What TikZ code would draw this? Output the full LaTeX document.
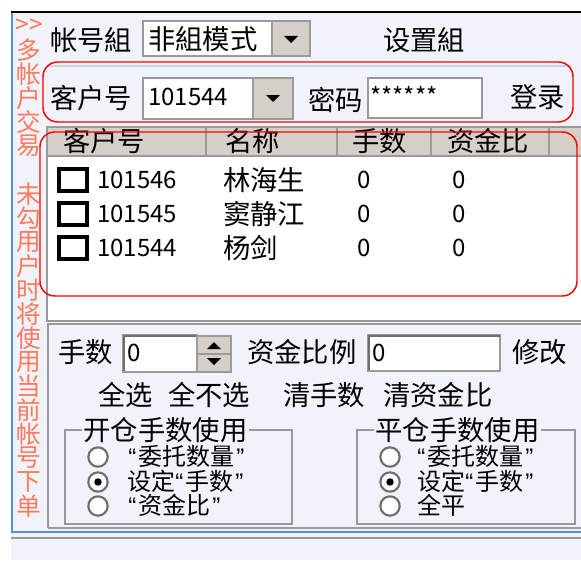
\documentclass[tikz,border=0pt]{standalone}
\usepackage{fontspec}
\setmainfont{Noto Sans CJK SC}
\newfontfamily\qfont{Liberation Sans}
\newcommand{\myoq}{{\qfont “}\hspace{1.5pt}}
\newcommand{\mycq}{\hspace{1.5pt}{\qfont ”}}
\definecolor{bg}{HTML}{F0F4FA}
\definecolor{winblue}{HTML}{5B8FD0}
\definecolor{btn}{HTML}{D4D0C8}
\definecolor{edge}{HTML}{9A9A9A}
\definecolor{dark}{HTML}{6E6E6E}
\definecolor{sidered}{HTML}{FF7A5C}
\definecolor{sep}{HTML}{C6D6EA}
\tikzset{
  lbl/.style={anchor=west, inner sep=0pt, font=\fontsize{20.5pt}{20.5pt}\selectfont},
  rlbl/.style={anchor=west, inner sep=0pt, text height=13pt, text depth=0.4pt, font=\fontsize{18pt}{18pt}\selectfont},
  num/.style={anchor=west, inner sep=0pt, font=\fontsize{18pt}{18pt}\selectfont},
  side/.style={inner sep=0pt, text=sidered, font=\fontsize{18.5pt}{18.5pt}\selectfont},
  redbox/.style={draw=red, line width=1.1pt, rounded corners=11pt},
  field/.style={fill=white, draw=edge, line width=1.1pt},
  btnbox/.style={fill=btn, draw=edge, line width=1.1pt},
  hdr/.style={fill=btn, draw=edge, line width=0.9pt},
  chk/.style={draw=black, line width=2.8pt},
  grp/.style={draw=edge, line width=1.1pt},
  radio/.style={circle, fill=white, draw=dark, line width=1.6pt, minimum size=14.5pt, inner sep=0pt},
  tri/.style={fill=black}
}
\begin{document}
\begin{tikzpicture}[x=0.75pt,y=-0.75pt]
\useasboundingbox (0,0) rectangle (581,560);
% window
\fill[white] (0,0) rectangle (581,560);
\fill[bg] (11,12) rectangle (581,560);
\draw[black, line width=2.2pt] (11,12) -- (581,12);
\draw[winblue, line width=1.3pt] (12,13) -- (12,532) -- (581,532);
\draw[edge, line width=1.4pt] (11,538) -- (581,538);

% side text
\foreach \c [count=\i] in {>{}>,多,帐,户,交,易,{},未,勾,用,户,时,将,使,用,当,前,帐,号,下,单}
  \node[side] (side\i) at (29,{2+24*\i}) {\c};

% row 1
\node[lbl] (acctgrp) at (50,40) {帐号組};
\draw[field] (143,21) rectangle (272,56);
\node[lbl] (mode) at (148,39) {非組模式};
\draw[btnbox] (272,21) rectangle (310,56);
\fill[tri] (284,36) -- (298,36) -- (291,43) -- cycle;
\node[lbl] (setgrp) at (383,40) {设置組};

% login row
\draw[sep, line width=1pt] (47,66) -- (572,66);
\node[lbl] (custlbl) at (50,98) {客户号};
\draw[field] (143,78) rectangle (253,119);
\node[num] (custno) at (148,97) {101544};
\draw[btnbox] (253,78) rectangle (293,119);
\fill[tri] (266,95) -- (280,95) -- (273,102) -- cycle;
\node[lbl] (pwdlbl) at (308,100) {密码};
\draw[field] (368,78) rectangle (482,118);
\node[num, anchor=north west] (pwd) at (370,86) {******};
\node[lbl] (login) at (510,97) {登录};
\draw[redbox] (43,62) rectangle (573,122);

% table
\fill[white] (47,156) rectangle (581,321);
\draw[edge, line width=1.1pt] (47,126) -- (47,321) -- (581,321);
\draw[hdr] (47,127) rectangle (206,156);
\draw[hdr] (206,127) rectangle (337,156);
\draw[hdr] (337,127) rectangle (431,156);
\draw[hdr] (431,127) rectangle (549,156);
\draw[hdr] (549,127) rectangle (583,156);
\node[lbl] (h1) at (63,141) {客户号};
\node[lbl] (h2) at (225,141) {名称};
\node[lbl] (h3) at (352,141) {手数};
\node[lbl] (h4) at (447,141) {资金比};

\foreach \y/\n/\m [count=\i] in {180/101546/林海生, 214/101545/窦静江, 248/101544/杨剑} {
  \draw[chk] (59,\y-11) rectangle (87,\y+11);
  \node[num] (id\i) at (97,\y) {\n};
  \node[lbl] (nm\i) at (223,\y) {\m};
  \node[num] (q\i) at (357,\y) {0};
  \node[num] (r\i) at (452,\y) {0};
}
\draw[redbox] (40,132) rectangle (577,296);

% bottom panel
\draw[edge, line width=1.4pt] (48,528) -- (48,324) -- (581,324);
\draw[edge, line width=1.4pt] (48,528) -- (581,528);

\node[lbl] (shl) at (58,352) {手数};
\draw[field] (123,335) rectangle (197,372);
\draw[dark, line width=1.3pt] (124,371) -- (124,336) -- (231,336);
\node[num] (shv) at (127,353) {0};
\draw[btnbox] (197,336) rectangle (231,354);
\draw[btnbox] (197,354) rectangle (231,372);
\fill[tri] (207,349) -- (221,349) -- (214,342) -- cycle;
\fill[tri] (207,358) -- (221,358) -- (214,365) -- cycle;
\node[lbl] (ratiol) at (247,352) {资金比例};
\draw[field] (368,335) rectangle (500,371);
\draw[dark, line width=1.3pt] (369,370) -- (369,336) -- (500,336);
\node[num] (ratiov) at (372,353) {0};
\node[lbl] (modify) at (512,352) {修改};

\node[lbl] (selall) at (98,395) {全选};
\node[lbl] (selnone) at (168,395) {全不选};
\node[lbl] (clrq) at (283,395) {清手数};
\node[lbl] (clrr) at (383,395) {清资金比};

% group boxes
\draw[grp] (65,430) rectangle (292,524);
\node[lbl, fill=bg, inner xsep=1pt] (g1t) at (82,430) {开仓手数使用};
\draw[grp] (357,430) rectangle (575,524);
\node[lbl, fill=bg, inner xsep=1pt] (g2t) at (374,430) {平仓手数使用};

\node[radio] (ra1) at (98,457) {};
\node[radio] (ra2) at (98,482) {};
\node[radio] (ra3) at (98,506) {};
\fill (ra2) circle (2.8pt);
\node[rlbl] (ta1) at (128,457) {\myoq 委托数量\mycq};
\node[rlbl] (ta2) at (127,482) {设定\myoq 手数\mycq};
\node[rlbl] (ta3) at (128,506) {\myoq 资金比\mycq};

\node[radio] (rb1) at (390,457) {};
\node[radio] (rb2) at (390,482) {};
\node[radio] (rb3) at (390,506) {};
\fill (rb2) circle (2.8pt);
\node[rlbl] (tb1) at (417,457) {\myoq 委托数量\mycq};
\node[rlbl] (tb2) at (417,482) {设定\myoq 手数\mycq};
\node[rlbl] (tb3) at (417,506) {全平};
\end{tikzpicture}
\end{document}
